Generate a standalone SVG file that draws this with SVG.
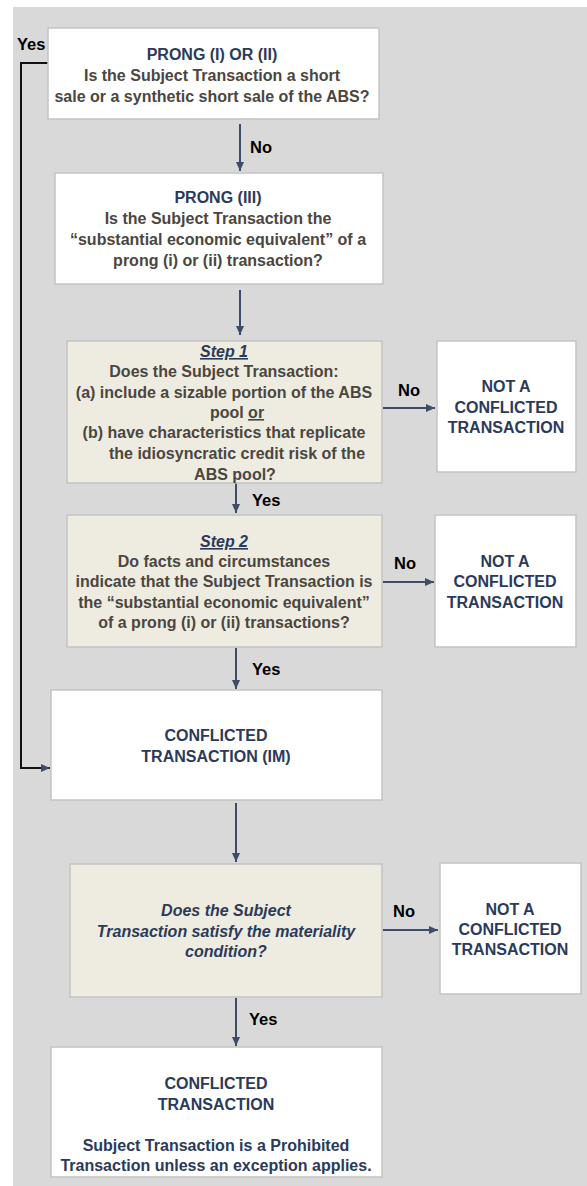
<svg xmlns="http://www.w3.org/2000/svg" width="587" height="1186" viewBox="0 0 587 1186">
<style>
.box{fill:#ffffff;stroke:#c3c3c3;stroke-width:1.5}
.beige{fill:#eeece1;stroke:#c3c3c3;stroke-width:1.5}
text{font-family:"Liberation Sans",Arial,sans-serif;font-weight:bold;font-size:16px}
.t{fill:#2b3a5a;text-anchor:middle}
.b{fill:#4b4640;text-anchor:middle}
.lbl{fill:#000000;font-size:16.5px}
.conn{stroke:#3d4d68;stroke-width:2;fill:none}
.loop{stroke:#111111;stroke-width:2;fill:none}
.it{font-style:italic}
.u{text-decoration:underline}
</style>
<defs>
<marker id="ah" markerUnits="userSpaceOnUse" markerWidth="9" markerHeight="8" refX="9" refY="4" orient="auto">
<path d="M0,0 L9,4 L0,8 z" fill="#3d4d68"/>
</marker>
</defs>
<rect x="0" y="0" width="587" height="1186" fill="#ffffff"/>
<rect x="13" y="7" width="574" height="1179" fill="#d9d9d9"/>

<g id="connectors">
<polyline class="loop" points="48,63 21,63 21,768 50,768" marker-end="url(#ah)"/>
<line class="conn" x1="240" y1="124" x2="240" y2="171" marker-end="url(#ah)"/>
<line class="conn" x1="240" y1="290" x2="240" y2="335" marker-end="url(#ah)"/>
<line class="conn" x1="236" y1="483" x2="236" y2="513" marker-end="url(#ah)"/>
<line class="conn" x1="236" y1="648" x2="236" y2="689" marker-end="url(#ah)"/>
<line class="conn" x1="236" y1="803" x2="236" y2="862" marker-end="url(#ah)"/>
<line class="conn" x1="236" y1="998" x2="236" y2="1046" marker-end="url(#ah)"/>
<line class="conn" x1="383" y1="408" x2="435" y2="408" marker-end="url(#ah)"/>
<line class="conn" x1="383" y1="582" x2="434" y2="582" marker-end="url(#ah)"/>
<line class="conn" x1="383" y1="930" x2="438" y2="930" marker-end="url(#ah)"/>
<text class="lbl" x="17" y="50">Yes</text>
<text class="lbl" x="250" y="153">No</text>
<text class="lbl" x="398" y="396">No</text>
<text class="lbl" x="252" y="506">Yes</text>
<text class="lbl" x="394" y="569">No</text>
<text class="lbl" x="252" y="675">Yes</text>
<text class="lbl" x="393" y="917">No</text>
<text class="lbl" x="249" y="1025">Yes</text>
</g>

<g id="prong12">
<rect class="box" x="48" y="28" width="331" height="91"/>
<text class="t" x="212" y="60">PRONG (I) OR (II)</text>
<text class="b" x="212" y="81">Is the Subject Transaction a short</text>
<text class="b" x="212" y="102">sale or a synthetic short sale of the ABS?</text>
</g>

<g id="prong3">
<rect class="box" x="55" y="173" width="328" height="111"/>
<text class="t" x="218" y="203">PRONG (III)</text>
<text class="b" x="218" y="224">Is the Subject Transaction the</text>
<text class="b" x="218" y="245">“substantial economic equivalent” of a</text>
<text class="b" x="218" y="266">prong (i) or (ii) transaction?</text>
</g>

<g id="step1">
<rect class="beige" x="67" y="341" width="315" height="142"/>
<text class="t it u" x="224" y="357">Step 1</text>
<text class="b" x="224" y="377">Does the Subject Transaction:</text>
<text class="b" x="224" y="398">(a) include a sizable portion of the ABS</text>
<text class="b" x="237" y="418">pool <tspan class="u">or</tspan></text>
<text class="b" x="224" y="438">(b) have characteristics that replicate</text>
<text class="b" x="237" y="459">the idiosyncratic credit risk of the</text>
<text class="b" x="235" y="480">ABS pool?</text>
</g>

<g id="not1">
<rect class="box" x="437" y="341" width="139" height="131"/>
<text class="t" x="506" y="392">NOT A</text>
<text class="t" x="506" y="413">CONFLICTED</text>
<text class="t" x="506" y="433">TRANSACTION</text>
</g>

<g id="step2">
<rect class="beige" x="67" y="515" width="315" height="132"/>
<text class="t it u" x="224" y="547">Step 2</text>
<text class="b" x="224" y="567">Do facts and circumstances</text>
<text class="b" x="224" y="587">indicate that the Subject Transaction is</text>
<text class="b" x="224" y="608">the “substantial economic equivalent”</text>
<text class="b" x="224" y="628">of a prong (i) or (ii) transactions?</text>
</g>

<g id="not2">
<rect class="box" x="435" y="515" width="141" height="132"/>
<text class="t" x="505" y="567">NOT A</text>
<text class="t" x="505" y="587">CONFLICTED</text>
<text class="t" x="505" y="608">TRANSACTION</text>
</g>

<g id="conflictedIM">
<rect class="box" x="51" y="690" width="331" height="110"/>
<text class="t" x="216" y="741">CONFLICTED</text>
<text class="t" x="216" y="762">TRANSACTION (IM)</text>
</g>

<g id="materiality">
<rect class="beige" x="70" y="864" width="312" height="133"/>
<text class="t it" x="226" y="916">Does the Subject</text>
<text class="t it" x="226" y="937">Transaction satisfy the materiality</text>
<text class="t it" x="226" y="957">condition?</text>
</g>

<g id="not3">
<rect class="box" x="440" y="863" width="141" height="131"/>
<text class="t" x="510" y="915">NOT A</text>
<text class="t" x="510" y="935">CONFLICTED</text>
<text class="t" x="510" y="955">TRANSACTION</text>
</g>

<g id="final">
<rect class="box" x="51" y="1047" width="331" height="130"/>
<text class="t" x="216" y="1089">CONFLICTED</text>
<text class="t" x="216" y="1110">TRANSACTION</text>
<text class="t" x="216" y="1151">Subject Transaction is a Prohibited</text>
<text class="t" x="216" y="1171">Transaction unless an exception applies.</text>
</g>
</svg>
